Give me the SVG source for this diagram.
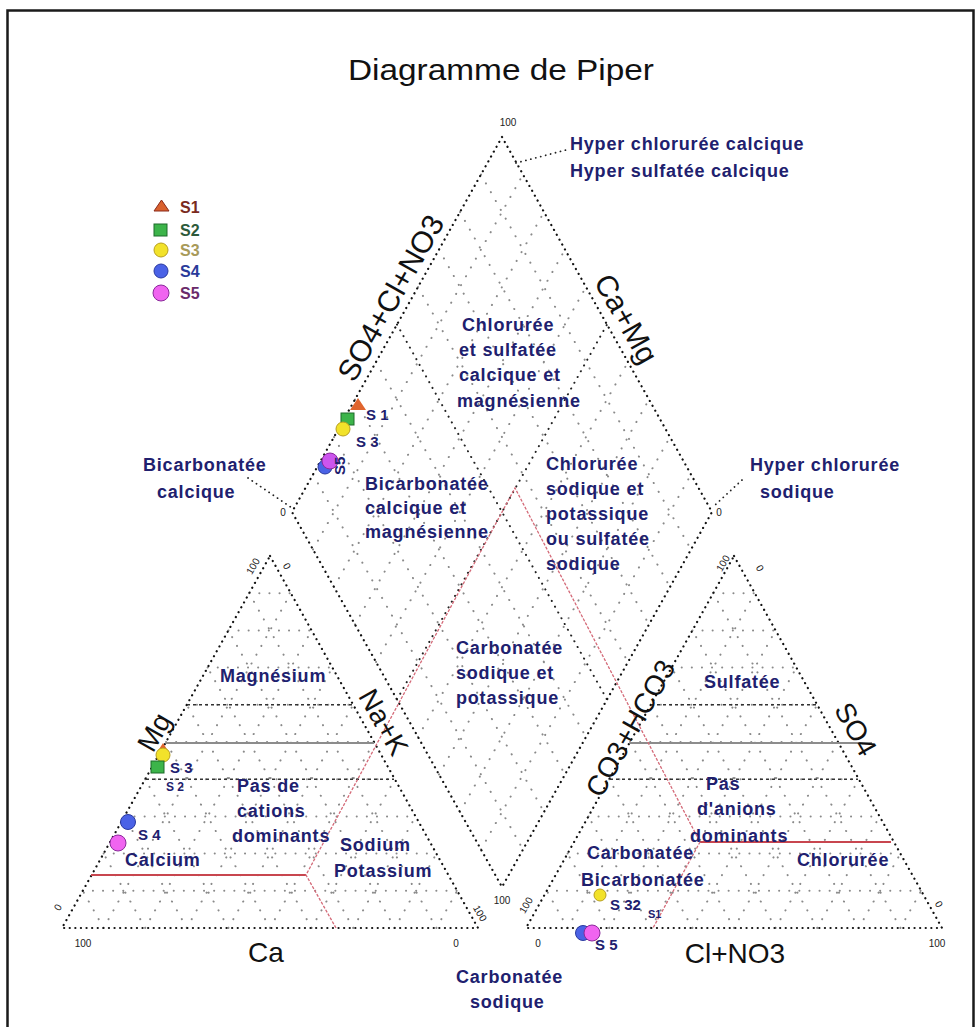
<svg xmlns="http://www.w3.org/2000/svg" xmlns:xlink="http://www.w3.org/1999/xlink" width="980" height="1027" viewBox="0 0 980 1027">
<defs>
<style>
.frame{fill:#fff;stroke:#1a1a1a;stroke-width:2.5}
.out{fill:none;stroke:#111;stroke-width:2.2;stroke-dasharray:0.1 5.5;stroke-linecap:round}
.div{fill:none;stroke:#222;stroke-width:2;stroke-dasharray:0.1 6.5;stroke-linecap:round}
.grid{fill:none;stroke:#8a8a8a;stroke-width:2;stroke-dasharray:0.1 10;stroke-linecap:round}
.dash{fill:none;stroke:#333;stroke-width:1.4;stroke-dasharray:3 3}
.gray{fill:none;stroke:#8c8c8c;stroke-width:2}
.red{fill:none;stroke:#c8464f;stroke-width:2}
.redd{fill:none;stroke:#d46a78;stroke-width:1.3;stroke-dasharray:3 1.5}
.ptr{fill:none;stroke:#222;stroke-width:1.8;stroke-dasharray:0.1 5;stroke-linecap:round}
.t{font-family:"Liberation Sans",Arial,sans-serif;font-weight:bold;font-size:18px;letter-spacing:0.8px;fill:#20206e}
.ax{font-family:"Liberation Sans",Arial,sans-serif;font-size:28px;fill:#111}
.tk{font-family:"Liberation Sans",Arial,sans-serif;font-size:10px;fill:#222}
.lg{font-family:"Liberation Sans",Arial,sans-serif;font-weight:bold;font-size:16px}
.dl{font-family:"Liberation Sans",Arial,sans-serif;font-weight:bold;font-size:15px;fill:#20206e}
</style>
<path id="tgrid" class="grid" d="M82.8,890.8L457.2,890.8M103.6,853.6L436.4,853.6M124.4,816.4L415.6,816.4M145.2,779.2L394.8,779.2M166,742L374,742M186.8,704.8L353.2,704.8M207.6,667.6L332.4,667.6M228.4,630.4L311.6,630.4M249.2,593.2L290.8,593.2M103.6,928L290.8,593.2M145.2,928L311.6,630.4M186.8,928L332.4,667.6M228.4,928L353.2,704.8M270,928L374,742M311.6,928L394.8,779.2M353.2,928L415.6,816.4M394.8,928L436.4,853.6M436.4,928L457.2,890.8M436.4,928L249.2,593.2M394.8,928L228.4,630.4M353.2,928L207.6,667.6M311.6,928L186.8,704.8M270,928L166,742M228.4,928L145.2,779.2M186.8,928L124.4,816.4M145.2,928L103.6,853.6M103.6,928L82.8,890.8"/>
</defs>
<rect class="frame" x="7.5" y="10.5" width="966" height="1030"/>
<text id="title" x="501" y="80" text-anchor="middle" textLength="306" lengthAdjust="spacingAndGlyphs" style="font-family:'Liberation Sans',Arial,sans-serif;font-size:30px;fill:#111">Diagramme de Piper</text>

<g id="grid-lines">
<path class="grid" d="M313,474.5L523,849.5M334,437L544,812M355,399.5L565,774.5M376,362L586,737M418,287L628,662M439,249.5L649,624.5M460,212L670,587M481,174.5L691,549.5M313,549.5L523,174.5M334,587L544,212M355,624.5L565,249.5M376,662L586,287M418,737L628,362M439,774.5L649,399.5M460,812L670,437M481,849.5L691,474.5"/>
<use xlink:href="#tgrid"/>
<use xlink:href="#tgrid" x="464"/>
</g>

<g id="diamond">
<path class="out" d="M502,137L712,512L502,887L292,512Z"/>
<path class="div" d="M397,324.5L607,699.5M397,699.5L607,324.5"/>
</g>

<g id="cation-triangle">
<path class="out" d="M270,556L478,928L62,928Z"/>
<path class="dash" d="M187,704.8L353,704.8M146,779.2L394,779.2"/>
<path class="gray" d="M166,743L374,743"/>
<path class="red" d="M91,875L306,875"/>
</g>

<g id="anion-triangle">
<path class="out" d="M734,556L942,928L526,928Z"/>
<path class="dash" d="M651,704.8L817,704.8M610,779.2L858,779.2"/>
<path class="gray" d="M630,743L872,743"/>
<path class="red" d="M700,842L891,842"/>
</g>

<g id="connectors">
<path class="redd" d="M336,928L306,875L515,488L700,842L653,928"/>
<path class="ptr" d="M516,163L566,150"/>
<path class="ptr" d="M248,478L292,508"/>
<path class="ptr" d="M742,480L714,506"/>
</g>

<g id="axis-labels">
<text class="ax" transform="translate(391,298) rotate(-60.5)" text-anchor="middle" dy="10" style="font-size:30px">SO4+Cl+NO3</text>
<text class="ax" transform="translate(626,319) rotate(60.5)" text-anchor="middle" dy="10" style="font-size:30px">Ca+Mg</text>
<text class="ax" transform="translate(154,732) rotate(-60.5)" text-anchor="middle" dy="10">Mg</text>
<text class="ax" transform="translate(384,722) rotate(60.5)" text-anchor="middle" dy="10">Na+K</text>
<text class="ax" x="266" y="962" text-anchor="middle">Ca</text>
<text class="ax" transform="translate(630,728) rotate(-60.5)" text-anchor="middle" dy="10">CO3+HCO3</text>
<text class="ax" transform="translate(856,729) rotate(60.5)" text-anchor="middle" dy="10">SO4</text>
<text class="ax" x="735" y="963" text-anchor="middle">Cl+NO3</text>
</g>

<g id="ticks">
<text class="tk" x="508" y="126" text-anchor="middle">100</text>
<text class="tk" x="283" y="516" text-anchor="middle">0</text>
<text class="tk" x="719" y="516" text-anchor="middle">0</text>
<text class="tk" x="502" y="904" text-anchor="middle">100</text>
<text class="tk" transform="translate(256,568) rotate(-60)" text-anchor="middle">100</text>
<text class="tk" transform="translate(284,568) rotate(60)" text-anchor="middle">0</text>
<text class="tk" transform="translate(61,909) rotate(-60)" text-anchor="middle">0</text>
<text class="tk" x="83" y="947" text-anchor="middle">100</text>
<text class="tk" x="456" y="947" text-anchor="middle">0</text>
<text class="tk" transform="translate(477,915) rotate(60)" text-anchor="middle">100</text>
<text class="tk" transform="translate(726,565) rotate(-60)" text-anchor="middle">100</text>
<text class="tk" transform="translate(757,570) rotate(60)" text-anchor="middle">0</text>
<text class="tk" transform="translate(529,907) rotate(-60)" text-anchor="middle">100</text>
<text class="tk" x="538" y="947" text-anchor="middle">0</text>
<text class="tk" x="937" y="947" text-anchor="middle">100</text>
<text class="tk" transform="translate(936,906) rotate(60)" text-anchor="middle">0</text>
</g>

<g id="region-labels">
<text class="t" x="570" y="150">Hyper chlorurée calcique</text>
<text class="t" x="570" y="177">Hyper sulfatée calcique</text>
<text class="t" x="462" y="331">Chlorurée</text>
<text class="t" x="459" y="356">et sulfatée</text>
<text class="t" x="459" y="381">calcique et</text>
<text class="t" x="457" y="407">magnésienne</text>
<text class="t" x="143" y="471">Bicarbonatée</text>
<text class="t" x="157" y="498">calcique</text>
<text class="t" x="365" y="490">Bicarbonatée</text>
<text class="t" x="365" y="514">calcique et</text>
<text class="t" x="365" y="538">magnésienne</text>
<text class="t" x="546" y="470">Chlorurée</text>
<text class="t" x="546" y="495">sodique et</text>
<text class="t" x="546" y="520">potassique</text>
<text class="t" x="546" y="545">ou sulfatée</text>
<text class="t" x="546" y="570">sodique</text>
<text class="t" x="750" y="471">Hyper chlorurée</text>
<text class="t" x="760" y="498">sodique</text>
<text class="t" x="456" y="654">Carbonatée</text>
<text class="t" x="456" y="679">sodique et</text>
<text class="t" x="456" y="704">potassique</text>
<text class="t" x="220" y="682">Magnésium</text>
<text class="t" x="704" y="688">Sulfatée</text>
<text class="t" x="237" y="792">Pas de</text>
<text class="t" x="237" y="817">cations</text>
<text class="t" x="232" y="842">dominants</text>
<text class="t" x="706" y="790">Pas</text>
<text class="t" x="697" y="815">d'anions</text>
<text class="t" x="690" y="842">dominants</text>
<text class="t" x="340" y="851">Sodium</text>
<text class="t" x="334" y="877">Potassium</text>
<text class="t" x="125" y="866">Calcium</text>
<text class="t" x="797" y="866">Chlorurée</text>
<text class="t" x="587" y="859">Carbonatée</text>
<text class="t" x="581" y="886">Bicarbonatée</text>
<text class="t" x="456" y="983">Carbonatée</text>
<text class="t" x="470" y="1008">sodique</text>
</g>

<g id="legend">
<path d="M154,211L161.5,200L169,211Z" fill="#d9612e" stroke="#8a2a1a" stroke-width="1"/>
<text class="lg" x="180" y="213" fill="#7a2a1e">S1</text>
<rect x="154" y="224" width="13" height="12" fill="#3cb44a" stroke="#1d6b2a" stroke-width="1"/>
<text class="lg" x="180" y="236" fill="#2d5a3a">S2</text>
<circle cx="161" cy="250" r="7" fill="#f2e22a" stroke="#b8a020" stroke-width="1"/>
<text class="lg" x="180" y="256" fill="#a89a5a">S3</text>
<circle cx="161" cy="271" r="7" fill="#4a62e6" stroke="#2a3aa0" stroke-width="1"/>
<text class="lg" x="180" y="277" fill="#2a3a9a">S4</text>
<circle cx="161" cy="293" r="8" fill="#f064f0" stroke="#8a2a9a" stroke-width="1"/>
<text class="lg" x="180" y="299" fill="#6a2a6a">S5</text>
</g>

<g id="points-diamond">
<path d="M350,410L358,398L366,410Z" fill="#e0652e"/>
<rect x="341" y="413" width="13" height="12" fill="#3cb44a" stroke="#1d6b2a" stroke-width="1"/>
<circle cx="343" cy="429" r="7" fill="#f2e22a" stroke="#b8a020" stroke-width="1"/>
<circle cx="325" cy="467" r="7" fill="#4a62e6" stroke="#2a3aa0" stroke-width="1"/>
<circle cx="330" cy="461" r="8" fill="#cc55ee" stroke="#8a2a9a" stroke-width="1"/>
<text class="dl" x="366" y="420">S 1</text>
<text class="dl" x="356" y="447">S 3</text>
<text class="dl" transform="translate(345,475) rotate(-90)">S5</text>
</g>

<g id="points-cation">
<path d="M156,754L163,743L170,754Z" fill="#e0652e"/>
<circle cx="163" cy="755" r="7" fill="#f2e22a" stroke="#b8a020" stroke-width="1"/>
<rect x="151" y="761" width="13" height="12" fill="#3cb44a" stroke="#1d6b2a" stroke-width="1"/>
<circle cx="128" cy="822" r="7.5" fill="#4a62e6" stroke="#2a3aa0" stroke-width="1"/>
<circle cx="118" cy="843" r="8" fill="#f064f0" stroke="#8a2a9a" stroke-width="1"/>
<text class="dl" x="170" y="773">S 3</text>
<text class="dl" x="166" y="791" style="font-size:12px">S 2</text>
<text class="dl" x="138" y="840">S 4</text>
</g>

<g id="points-anion">
<circle cx="600" cy="895" r="6" fill="#f2e22a" stroke="#b8a020" stroke-width="1"/>
<circle cx="583" cy="933" r="7.5" fill="#4a62e6" stroke="#2a3aa0" stroke-width="1"/>
<circle cx="592" cy="933" r="8" fill="#f064f0" stroke="#8a2a9a" stroke-width="1"/>
<text class="dl" x="610" y="910">S 32</text>
<text class="dl" x="648" y="918" style="font-size:11px">S1</text>
<text class="dl" x="595" y="950">S 5</text>
</g>
</svg>
